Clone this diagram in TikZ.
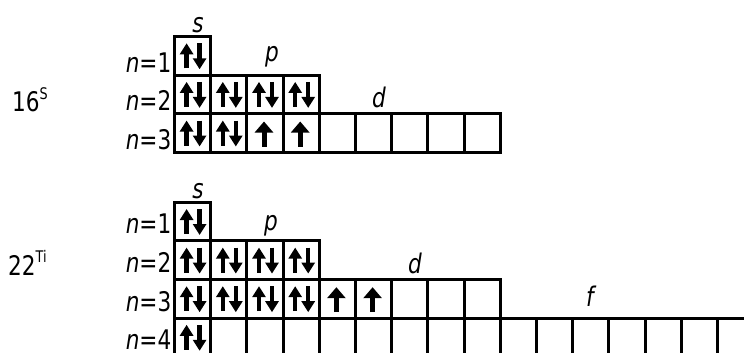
\documentclass[tikz,border=0pt]{standalone}
\usepackage{fontspec}
\setmainfont{DejaVu Sans}[FakeStretch=0.8]
\usetikzlibrary{arrows.meta, calc}

\begin{document}
\begin{tikzpicture}[
  x=1pt, y=-1pt,
  font=\fontsize{27}{30}\selectfont,
  orb/.style={draw, line width=3pt, minimum width=36.2pt, minimum height=38.6pt, inner sep=0pt},
  pair/.style={line width=4.5pt, -{Triangle[width=13pt, length=11pt]}},
  lone/.style={line width=5pt, -{Triangle[width=18pt, length=11pt]}},
  shell/.style={anchor=base east, inner sep=0pt},
  sub/.style={anchor=base, inner sep=0pt, font=\fontsize{27}{30}\selectfont\itshape},
  atom/.style={anchor=base west, inner sep=0pt}
]
\useasboundingbox (0,0) rectangle (744,353);
\clip (0,0) rectangle (744,353);

% sulfur, Z = 16
\foreach \r/\k in {1/1, 2/4, 3/9}
  \foreach \c in {1,...,\k}
    \node[orb] (S-\r-\c) at ({174.5+36.2*(\c-0.5)}, {36.5+38.6*(\r-0.5)}) {};
\foreach \r in {1,2,3}
  \node[shell] (S-n\r) at ($(S-\r-1.south west)+(-1.5,-4.5)$) {\textit{n}=\r};
\node[sub] (S-s) at (198,33) {s};
\node[sub] (S-p) at (272,62) {p};
\node[sub] (S-d) at (379,107) {d};
\node[atom] (S) at (12,111) {16\raisebox{12pt}{\fontsize{16}{16}\selectfont S}};

\foreach \n in {S-1-1, S-2-1, S-2-2, S-2-3, S-2-4, S-3-1, S-3-2} {
  \draw[pair] ($(\n)+(-6,12.5)$) -- ($(\n)+(-6,-12.5)$);
  \draw[pair] ($(\n)+(7,-12.5)$) -- ($(\n)+(7,13.5)$);
}
\foreach \n in {S-3-3, S-3-4}
  \draw[lone] ($(\n)+(-1,13.5)$) -- ($(\n)+(-1,-11.5)$);

% titanium, Z = 22
\foreach \r/\k in {1/1, 2/4, 3/9, 4/16}
  \foreach \c in {1,...,\k}
    \node[orb] (Ti-\r-\c) at ({174.5+36.2*(\c-0.5)}, {202.2+38.6*(\r-0.5)}) {};
\foreach \r in {1,2,3,4}
  \node[shell] (Ti-n\r) at ($(Ti-\r-1.south west)+(-1.5,-8.5)$) {\textit{n}=\r};
\node[sub] (Ti-s) at (198,198) {s};
\node[sub] (Ti-p) at (271,230) {p};
\node[sub] (Ti-d) at (415,273) {d};
\node[sub] (Ti-f) at (590,306) {f};
\node[atom] (Ti) at (8,275) {22\raisebox{12.5pt}{\fontsize{16}{16}\selectfont Ti}};

\foreach \n in {Ti-1-1, Ti-2-1, Ti-2-2, Ti-2-3, Ti-2-4, Ti-3-1, Ti-3-2, Ti-3-3, Ti-3-4, Ti-4-1} {
  \draw[pair] ($(\n)+(-6,12.5)$) -- ($(\n)+(-6,-12.5)$);
  \draw[pair] ($(\n)+(7,-12.5)$) -- ($(\n)+(7,13.5)$);
}
\foreach \n in {Ti-3-5, Ti-3-6}
  \draw[lone] ($(\n)+(-1,13.5)$) -- ($(\n)+(-1,-11.5)$);
\end{tikzpicture}
\end{document}
